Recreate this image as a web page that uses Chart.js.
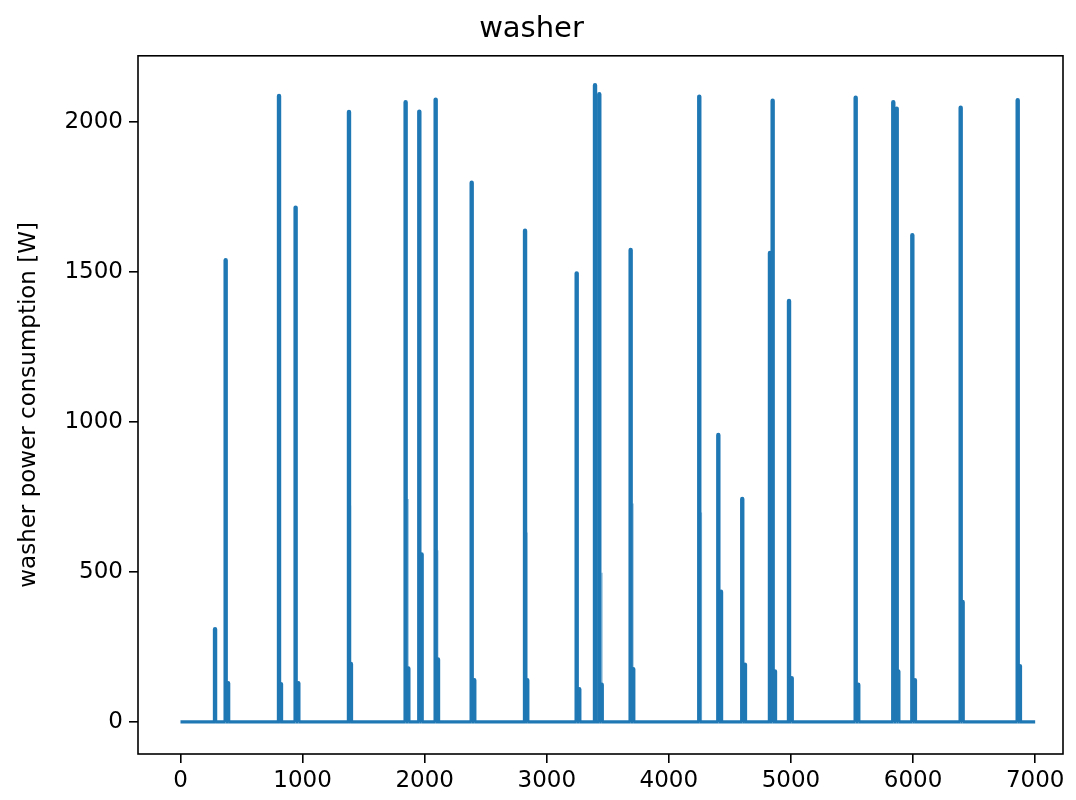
<!DOCTYPE html>
<html>
<head>
<meta charset="utf-8">
<script src="https://cdn.jsdelivr.net/npm/chart.js@4.4.1/dist/chart.umd.min.js"></script>
<style>
    html, body { margin: 0; padding: 0; background: #fff; }
    canvas { display: block; }
</style>
</head>
<body>
<canvas id="grafico-lavadora" width="1076" height="800"></canvas>
<script>
// Ciclos de lavado: muestra donde arranca cada ciclo y su pico de potencia (W)
const cicloInicio = [283, 370, 807, 943, 1380, 1844, 1956, 2090, 2385, 2822, 3245, 3395, 3430, 3687,
    4249, 4405, 4601, 4828, 4850, 4984, 5530, 5838, 5866, 5994, 6390, 6857];
const cicloPico = [309, 1539, 2086, 1714, 2033, 2065, 2034, 2074, 1797, 1637, 1495, 2122, 2092, 1573,
    2084, 956, 743, 1563, 2070, 1403, 2080, 2065, 2044, 1622, 2047, 2072];

// Picos cortos al final de cada ciclo (centrifugado)
const colaInicio = [390, 823, 965, 1396, 1866, 1975, 2109, 2406, 2840, 3266, 3450, 3708, 4427,
    4623, 4869, 5006, 5551, 5879, 6015, 6406, 6875];
const colaPico = [129, 126, 129, 193, 178, 558, 208, 139, 139, 109, 124, 176, 434,
    191, 168, 146, 124, 168, 139, 400, 186];

// Muestras aisladas de una sola lectura (se ven como trazo fino)
const trazoInicio = [1392, 1864, 2107, 2838, 3452, 3706, 4266];
const trazoPico = [721, 743, 572, 631, 497, 728, 698];

const muestraFinal = 7000;
const ticksX = [0, 1000, 2000, 3000, 4000, 5000, 6000, 7000];
const ticksY = [0, 500, 1000, 1500, 2000];

const AZUL = "#1f77b4";
const fuenteEje = { family: "DejaVu Sans", size: 23 };

// Convierte los eventos en una serie que vuelve a 0 W entre picos
const armarSerie = (inicios, picos, conExtremos) => {
    const eventos = inicios.map((x, i) => [x, picos[i]]).sort((a, b) => a[0] - b[0]);
    const puntos = conExtremos ? [{ x: 0, y: 0 }] : [];
    eventos.forEach(([x, y]) => {
        puntos.push({ x, y: 0 }, { x, y }, { x, y: 0 });
    });
    if (conExtremos) puntos.push({ x: muestraFinal, y: 0 });
    return puntos;
};

const serieCompleta = armarSerie(
    cicloInicio.concat(colaInicio),
    cicloPico.concat(colaPico),
    true
);
const serieTrazos = armarSerie(trazoInicio, trazoPico, false);

// Los tramos verticales (picos) se ven algo mas gruesos que la linea base
const anchoTramo = ctx => (ctx.p0.parsed.x === ctx.p1.parsed.x ? 4.4 : 3.4);

// Recuadro negro alrededor del area de trazado
const marco = {
    id: "marco",
    afterDatasetsDraw(chart) {
        const { ctx, chartArea: a } = chart;
        ctx.save();
        ctx.strokeStyle = "#000";
        ctx.lineWidth = 1.6;
        ctx.strokeRect(a.left, a.top, a.right - a.left, a.bottom - a.top);
        ctx.restore();
    },
};

new Chart(document.getElementById("grafico-lavadora").getContext("2d"), {
    type: "line",
    data: {
        datasets: [
            {
                data: serieCompleta,
                borderColor: AZUL,
                borderWidth: 3.4,
                borderJoinStyle: "round",
                segment: { borderWidth: anchoTramo },
                pointRadius: 0,
                tension: 0,
                order: 0,
            },
            {
                data: serieTrazos,
                borderColor: "rgba(31,119,180,0.45)",
                borderWidth: 1.5,
                pointRadius: 0,
                tension: 0,
                order: 1,
            },
        ],
    },
    options: {
        responsive: false,
        animation: false,
        events: [],
        layout: { padding: { left: 0, right: 13, top: 0, bottom: 0 } },
        plugins: {
            legend: { display: false },
            tooltip: { enabled: false },
            title: {
                display: true,
                text: "washer",
                color: "#000",
                font: { family: "DejaVu Sans", size: 29, weight: "normal" },
                padding: { top: 12, bottom: 9 },
            },
        },
        scales: {
            x: {
                type: "linear",
                min: -348,
                max: 7228,
                afterBuildTicks: s => { s.ticks = ticksX.map(v => ({ value: v })); },
                afterFit: s => { s.height = 46; },
                ticks: { color: "#000", font: fuenteEje, padding: 4, maxRotation: 0, autoSkip: false, callback: v => String(v) },
                grid: { drawOnChartArea: false, tickLength: 9, color: "#000", lineWidth: 1.6 },
                border: { display: false },
            },
            y: {
                type: "linear",
                min: -107,
                max: 2220,
                afterBuildTicks: s => { s.ticks = ticksY.map(v => ({ value: v })); },
                afterFit: s => { s.width = 138; },
                ticks: { color: "#000", font: fuenteEje, padding: 6, autoSkip: false, callback: v => String(v) },
                grid: { drawOnChartArea: false, tickLength: 9, color: "#000", lineWidth: 1.6 },
                border: { display: false },
                title: {
                    display: true,
                    text: "washer power consumption [W]",
                    color: "#000",
                    font: { family: "DejaVu Sans", size: 23 },
                    padding: { top: 15, bottom: 0 },
                },
            },
        },
    },
    plugins: [marco],
});
</script>
</body>
</html>
